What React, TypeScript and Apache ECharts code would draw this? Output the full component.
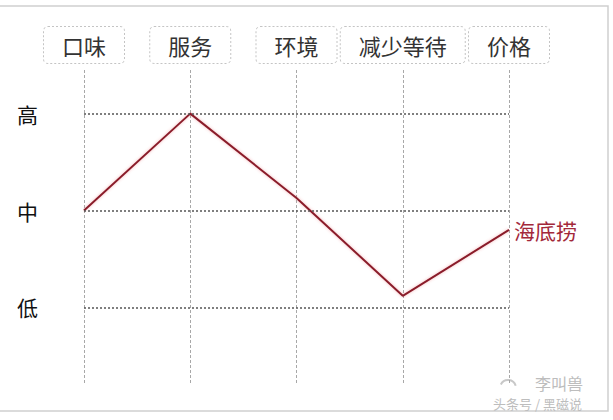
import React, { useEffect, useRef } from "react";
import * as echarts from "echarts";

const categories = ["口味", "服务", "环境", "减少等待", "价格"];
const seriesName = "海底捞";
const values = [2.0, 3.0, 2.13, 1.12, 1.8];
const levelValues = [1, 2, 3];
const levelLabels = ["低", "中", "高"];

export default function App() {
  const ref = useRef<HTMLDivElement>(null);

  useEffect(() => {
    if (!ref.current) return;
    const chart = echarts.init(ref.current, null, { renderer: "svg" });
    const font = "'Noto Sans CJK SC', 'Noto Sans', sans-serif";
    chart.setOption({
      animation: false,
      backgroundColor: "#ffffff",
      textStyle: { fontFamily: font },
      grid: { left: 84, right: 104, top: 70, bottom: 35 },
      xAxis: {
        type: "category",
        data: categories,
        position: "top",
        boundaryGap: false,
        axisLine: { show: false },
        axisTick: { show: false },
        axisLabel: {
          interval: 0,
          hideOverlap: false,
          margin: 7,
          fontSize: 22,
          lineHeight: 24,
          color: "#333",
          fontFamily: font,
          backgroundColor: "#fff",
          borderColor: "#c4c4c4",
          borderType: [2, 2],
          borderWidth: 1,
          borderRadius: 4,
          padding: [6, 18, 6, 18],
        },
        splitLine: {
          show: true,
          lineStyle: { color: "#a8a8a8", type: [3, 2], width: 1 },
        },
      },
      yAxis: {
        type: "value",
        min: 0.2,
        max: 3.45,
        show: false,
        splitLine: { show: false },
      },
      series: [
        {
          name: seriesName,
          type: "line",
          data: values,
          symbol: "none",
          lineStyle: {
            color: "#8a1d2c",
            width: 2,
            shadowColor: "rgba(230,90,100,0.45)",
            shadowBlur: 3,
          },
          endLabel: {
            show: true,
            formatter: "{a}",
            color: "#a3283a",
            fontSize: 21,
            fontFamily: font,
            distance: 5,
          },
          markLine: {
            silent: true,
            symbol: "none",
            lineStyle: { color: "#555", type: [2, 2], width: 1.6 },
            label: {
              show: true,
              position: "start",
              formatter: "{b}",
              fontSize: 21,
              color: "#111",
              fontFamily: font,
              distance: 46,
            },
            data: levelValues.map((v, i) => ({ yAxis: v, name: levelLabels[i] })),
          },
        },
      ],
      graphic: [
        {
          type: "rect",
          shape: { x: -1, y: 6, width: 609, height: 405 },
          style: { fill: "none", stroke: "#cfcfcf", lineWidth: 1.5 },
          silent: true,
        },
        {
          type: "text",
          left: 535,
          top: 375,
          style: { text: "李叫兽", fontSize: 16, fill: "#bdbdbd", fontFamily: font },
        },
        {
          type: "text",
          left: 493,
          top: 397,
          style: { text: "头条号 / 黑磁说", fontSize: 13, fill: "#bdbdbd", fontFamily: font },
        },
        {
          type: "arc",
          shape: { cx: 508, cy: 388, r: 8, startAngle: 3.6, endAngle: 6.0 },
          style: { stroke: "#c8c8c8", lineWidth: 2, fill: "none" },
        },
      ],
    });
    return () => chart.dispose();
  }, []);

  return (
    <div
      ref={ref}
      style={{ position: "fixed", left: 0, top: 0, width: 613, height: 420 }}
    />
  );
}
